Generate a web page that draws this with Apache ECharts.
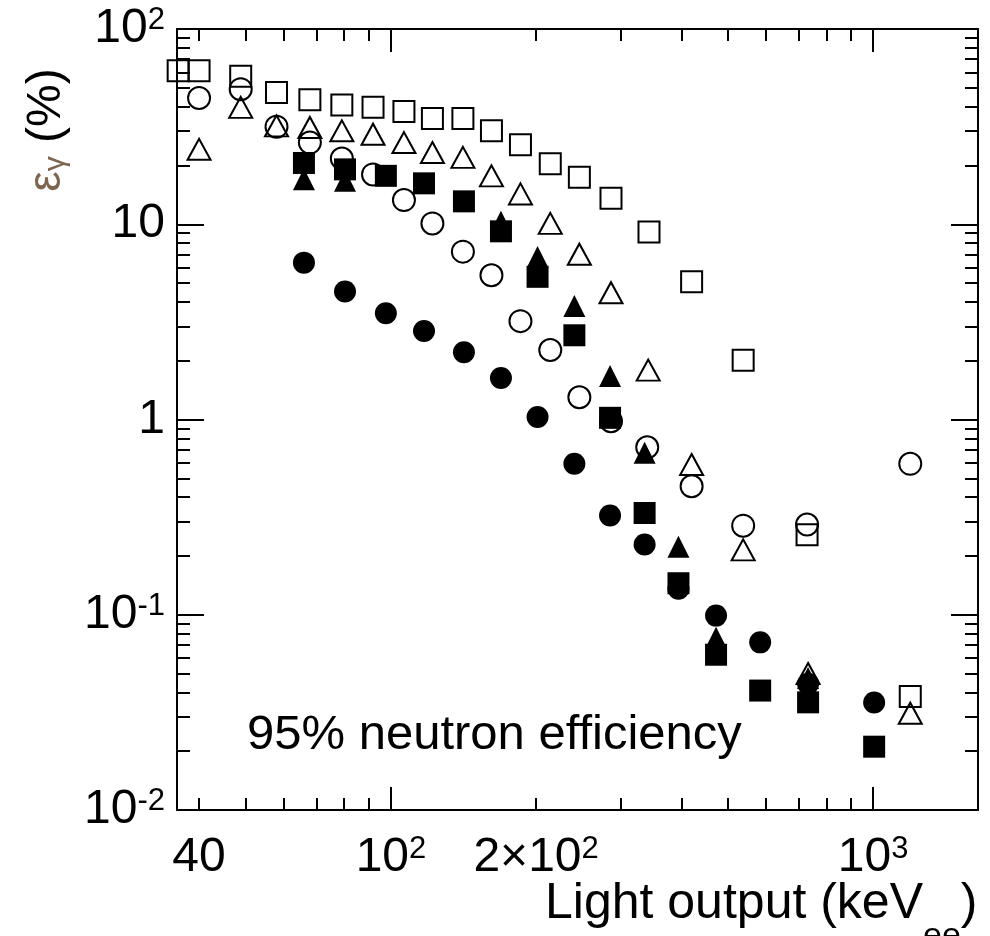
<!DOCTYPE html>
<html>
<head>
<meta charset="utf-8">
<script src="https://cdn.jsdelivr.net/npm/echarts@6/dist/echarts.min.js"></script>
<style>
  html, body { margin: 0; background: #fff; }
  #chart { width: 990px; height: 936px; }
</style>
</head>
<body>
<div id="chart"></div>
<script>
// light output (keVee) vs gamma efficiency (%) at 95% neutron efficiency
const openSquareX = [36.2, 40, 48.8, 57.9, 67.9, 79.1, 91.8, 106.4, 121.9, 141, 161.6, 185.6, 214, 245.9, 286, 342.9, 420.3, 537.6, 729.4, 1194];
const openSquareY = [61.1, 61.1, 57.2, 47.3, 43.4, 40.8, 39.7, 37.8, 34.8, 34.8, 30.1, 25.5, 20.4, 17.4, 13.6, 9.13, 5.08, 2.01, 0.257, 0.0381];

const openCircleX = [40, 48.8, 57.9, 67.9, 79.1, 91.8, 106.4, 121.9, 141, 161.6, 185.6, 214, 245.9, 286, 340, 420.3, 537.6, 729.4, 1194];
const openCircleY = [44.3, 49.2, 31.6, 26.2, 21.7, 18.0, 13.3, 10.1, 7.24, 5.48, 3.19, 2.27, 1.30, 0.98, 0.721, 0.455, 0.286, 0.29, 0.593];

const openTriX = [40, 48.8, 57.9, 67.9, 79.1, 91.8, 106.4, 121.9, 141, 161.6, 185.6, 214, 245.9, 286, 341.6, 420.3, 537.6, 733, 1194];
const openTriY = [24.2, 39.7, 31.9, 31.3, 30.1, 28.9, 26.2, 23.3, 22.0, 17.7, 14.3, 10.1, 7.02, 4.46, 1.79, 0.588, 0.215, 0.050, 0.0313];

const fillTriX = [66, 80.3, 169.1, 201.4, 240.1, 284.7, 335.8, 394.7, 472.3, 733];
const fillTriY = [17.0, 16.7, 10.3, 6.8, 3.81, 1.67, 0.675, 0.223, 0.0762, 0.0475];

const fillSquareX = [66, 80.3, 97.6, 117.1, 141.7, 169.1, 201.4, 240.1, 284.7, 335.8, 394.7, 472.3, 583.1, 733, 1004.9];
const fillSquareY = [20.6, 19.1, 17.7, 16.2, 13.1, 9.2, 5.38, 2.70, 1.02, 0.332, 0.145, 0.0624, 0.0409, 0.0356, 0.0211];

const fillCircleX = [66, 80.3, 97.6, 117.1, 141.7, 169.1, 201.4, 240.1, 284.7, 335.8, 394.7, 472.3, 583.1, 733, 1004.9];
const fillCircleY = [6.36, 4.52, 3.50, 2.84, 2.21, 1.63, 1.03, 0.593, 0.322, 0.229, 0.136, 0.099, 0.0722, 0.0443, 0.0355];

// tick positions and labels
const xMinorTicks = [40, 50, 60, 70, 80, 90, 100, 200, 300, 400, 500, 600, 700, 800, 900, 1000];
const xMajorTicks = [100, 1000];
const xLabelValues = [40, 100, 200, 1000];
const xLabelText = ['40', '10{s|2}', '2×10{s|2}', '10{s|3}'];

const yDecades = [0.01, 0.1, 1, 10, 100];
const yLabelText = ['10{s|-2}', '10{s|-1}', '1', '10', '10{s|2}'];
const yMinorTicks = [];
yDecades.slice(0, 4).forEach(d => { for (let k = 1; k <= 9; k++) yMinorTicks.push(+(k * d).toPrecision(3)); });
yMinorTicks.push(100);

const FONT = '"Liberation Sans", Arial, Helvetica, sans-serif';
const supRich = {
  s: { fontSize: 31, lineHeight: 24, verticalAlign: 'top', fontFamily: FONT, color: '#000' }
};

const pair = (xs, ys) => xs.map((x, i) => [x, ys[i]]);

const lineStyle = { color: '#000', width: 2 };

function xAxisDef(position, ticks, len, showLine, withLabels) {
  return {
    type: 'log', logBase: 10, min: 36, max: 1650, position: position, gridIndex: 0,
    axisLine: { show: showLine, onZero: false, lineStyle: lineStyle },
    axisTick: { show: true, inside: true, length: len, customValues: ticks, lineStyle: lineStyle },
    axisLabel: withLabels ? {
      show: true, customValues: xLabelValues, margin: 24, hideOverlap: false,
      fontSize: 48, lineHeight: 48, fontFamily: FONT, color: '#000',
      formatter: v => xLabelText[xLabelValues.findIndex(t => Math.abs(t - v) < 1e-6 * t)] || '',
      rich: supRich
    } : { show: false },
    splitLine: { show: false },
    minorTick: { show: false }
  };
}

function yAxisDef(position, ticks, len, showLine, withLabels) {
  return {
    type: 'log', logBase: 10, min: 0.01, max: 100, position: position, gridIndex: 0,
    axisLine: { show: showLine, onZero: false, lineStyle: lineStyle },
    axisTick: { show: true, inside: true, length: len, customValues: ticks, lineStyle: lineStyle },
    axisLabel: withLabels ? {
      show: true, customValues: yDecades, margin: 12, hideOverlap: false,
      fontSize: 48, lineHeight: 48, fontFamily: FONT, color: '#000',
      formatter: v => yLabelText[Math.round(Math.log10(v)) + 2],
      rich: supRich
    } : { show: false },
    splitLine: { show: false },
    minorTick: { show: false }
  };
}

const hollow = { color: 'rgba(0,0,0,0)', borderColor: '#000', borderWidth: 2, opacity: 1 };
const solid = { color: '#000', opacity: 1 };

// place the subscript of the x-axis name right after the main text
const measure = document.createElement('canvas').getContext('2d');
measure.font = '50px ' + FONT;
const nameMainW = measure.measureText('Light output (keV').width;
measure.font = '34px ' + FONT;
const nameSubW = measure.measureText('ee').width;

const chart = echarts.init(document.getElementById('chart'), null, { renderer: 'canvas' });
chart.setOption({
  animation: false,
  backgroundColor: '#fff',
  grid: { left: 177, right: 12, top: 29, bottom: 126, outerBoundsMode: 'none', containLabel: false },
  xAxis: [
    xAxisDef('bottom', xMinorTicks, 12, true, true),
    xAxisDef('bottom', xMajorTicks, 23, false, false),
    xAxisDef('top', xMinorTicks, 12, true, false),
    xAxisDef('top', xMajorTicks, 23, false, false)
  ],
  yAxis: [
    yAxisDef('left', yMinorTicks, 13, true, true),
    yAxisDef('left', yDecades, 27, false, false),
    yAxisDef('right', yMinorTicks, 13, true, false),
    yAxisDef('right', yDecades, 27, false, false)
  ],
  series: [
    { name: 'open square', type: 'scatter', symbol: 'rect', symbolSize: 21, itemStyle: hollow, data: pair(openSquareX, openSquareY) },
    { name: 'open circle', type: 'scatter', symbol: 'circle', symbolSize: 22, itemStyle: hollow, data: pair(openCircleX, openCircleY) },
    { name: 'open triangle', type: 'scatter', symbol: 'triangle', symbolSize: [23, 21], itemStyle: hollow, data: pair(openTriX, openTriY) },
    { name: 'filled triangle', type: 'scatter', symbol: 'triangle', symbolSize: [22, 22], itemStyle: solid, data: pair(fillTriX, fillTriY) },
    { name: 'filled square', type: 'scatter', symbol: 'rect', symbolSize: 22, itemStyle: solid, data: pair(fillSquareX, fillSquareY) },
    { name: 'filled circle', type: 'scatter', symbol: 'circle', symbolSize: 22, itemStyle: solid, data: pair(fillCircleX, fillCircleY) }
  ],
  graphic: [
    {
      type: 'text', x: 47, y: 130, rotation: Math.PI / 2,
      style: {
        text: '{e|ε}{g|γ}{p| (%)}', align: 'center', verticalAlign: 'middle',
        rich: {
          e: { fontSize: 46, lineHeight: 48, verticalAlign: 'middle', fontFamily: FONT, fill: '#7d6650' },
          g: { fontSize: 30, lineHeight: 30, verticalAlign: 'bottom', fontFamily: FONT, fill: '#7d6650' },
          p: { fontSize: 48, lineHeight: 48, verticalAlign: 'middle', fontFamily: FONT, fill: '#000' }
        }
      }
    },
    {
      type: 'text', x: 247, y: 735,
      style: { text: '95% neutron efficiency', font: '49px ' + FONT, fill: '#000', align: 'left', verticalAlign: 'middle' }
    },
    {
      type: 'text', x: 545, y: 904,
      style: { text: 'Light output (keV', font: '50px ' + FONT, fill: '#000', align: 'left', verticalAlign: 'middle' }
    },
    {
      type: 'text', x: 545 + nameMainW, y: 937,
      style: { text: 'ee', font: '34px ' + FONT, fill: '#000', align: 'left', verticalAlign: 'middle' }
    },
    {
      type: 'text', x: 545 + nameMainW + nameSubW, y: 904,
      style: { text: ')', font: '50px ' + FONT, fill: '#000', align: 'left', verticalAlign: 'middle' }
    }
  ]
});
</script>
</body>
</html>
